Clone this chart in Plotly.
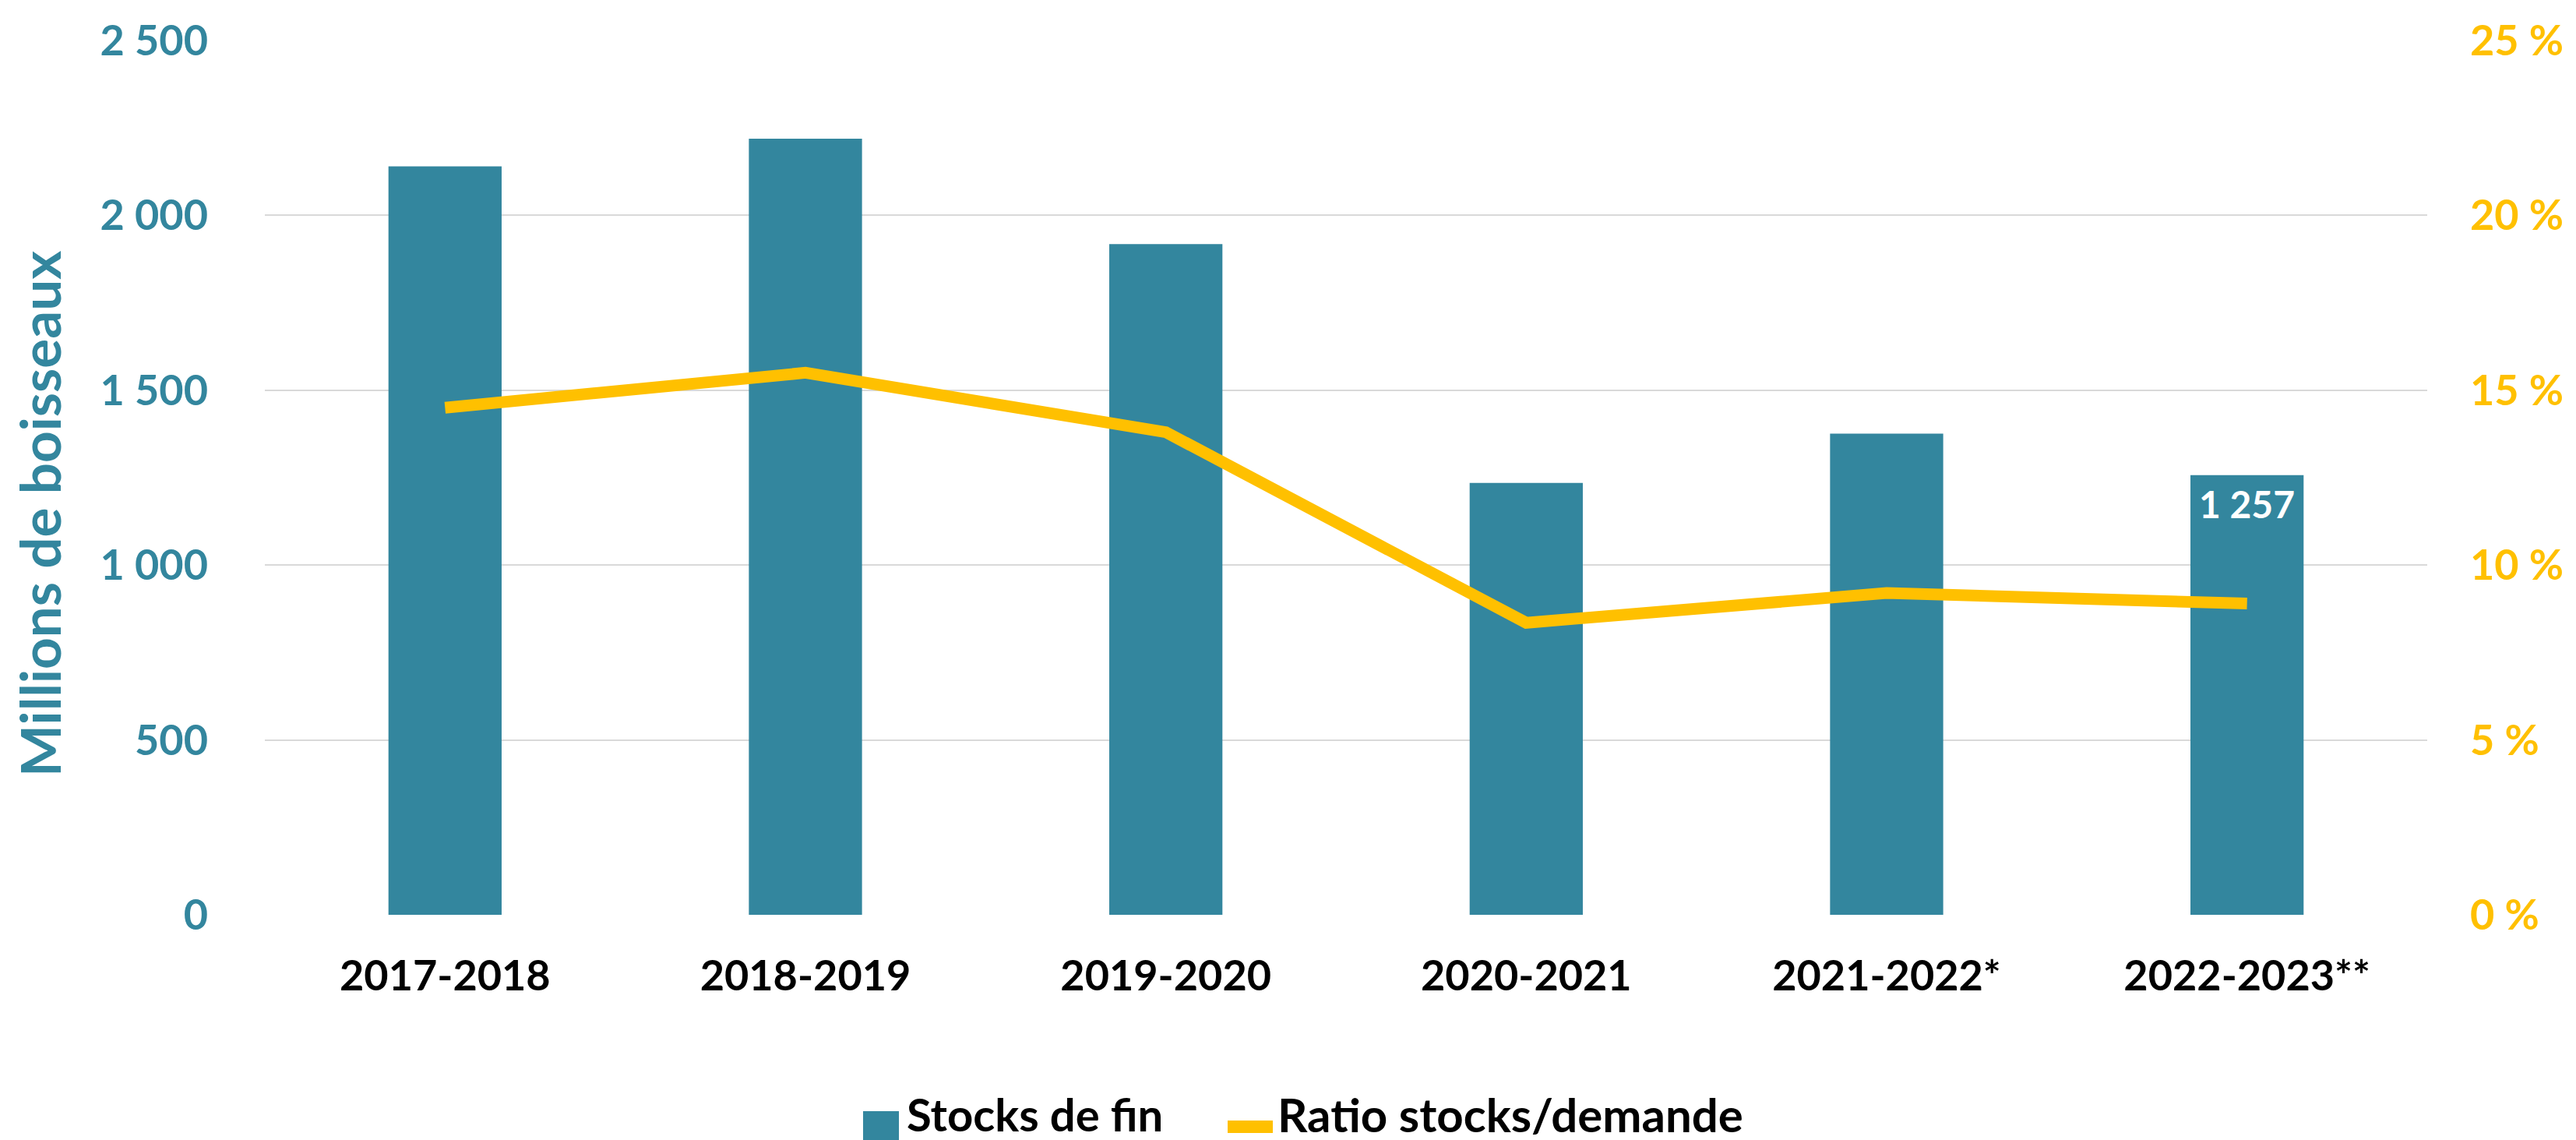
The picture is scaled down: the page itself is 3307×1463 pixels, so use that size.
import plotly.graph_objects as go

categories = ["2017-2018", "2018-2019", "2019-2020", "2020-2021", "2021-2022*", "2022-2023**"]
stocks = [2140, 2219, 1918, 1235, 1376, 1257]
ratio = [14.5, 15.5, 13.8, 8.35, 9.2, 8.9]
left_ticks = [0, 500, 1000, 1500, 2000, 2500]
left_labels = ["0", "500", "1 000", "1 500", "2 000", "2 500"]
right_ticks = [0, 5, 10, 15, 20, 25]
right_labels = ["0 %", "5 %", "10 %", "15 %", "20 %", "25 %"]

TEAL = "#33869E"
GOLD = "#FFC000"
GRID = "#D9D9D9"
FONT = "Lato"

W, H = 3307, 1463
ML, MR, MT, MB = 332, 199, 44, 297
PW, PH = W - ML - MR, H - MT - MB

def px(x):
    return (x - ML) / PW

def py(y):
    return (H - MB - y) / PH

fig = go.Figure()
fig.add_trace(go.Bar(
    x=categories, y=stocks, name="Stocks de fin",
    marker=dict(color=TEAL, line=dict(width=0)),
    yaxis="y", showlegend=False,
))
fig.add_trace(go.Scatter(
    x=categories, y=ratio, name="Ratio stocks/demande",
    mode="lines", line=dict(color=GOLD, width=15),
    yaxis="y2", showlegend=False,
))

label = f"{stocks[-1]:,}".replace(",", " ")
fig.add_annotation(
    x=categories[-1], y=stocks[-1], xref="x", yref="y",
    text=f"<b>{label}</b>", showarrow=False, yanchor="top", yshift=-6,
    font=dict(family=FONT, size=48, color="white"),
)

# y-axis title
fig.add_annotation(
    x=px(42), y=py(652), xref="paper", yref="paper",
    text="<b>Millions de boisseaux</b>", textangle=-90, showarrow=False,
    xanchor="center", yanchor="middle",
    font=dict(family=FONT, size=71, color=TEAL),
)

# manual legend
fig.add_shape(type="rect", xref="paper", yref="paper",
              x0=px(1100), x1=px(1146), y0=py(1456), y1=py(1418),
              fillcolor=TEAL, line=dict(width=0))
fig.add_annotation(x=px(1154), y=py(1422), xref="paper", yref="paper",
                   text="<b>Stocks de fin</b>", showarrow=False,
                   xanchor="left", yanchor="middle",
                   font=dict(family=FONT, size=58, color="black"))
fig.add_shape(type="line", xref="paper", yref="paper",
              x0=px(1568), x1=px(1626), y0=py(1438), y1=py(1438),
              line=dict(color=GOLD, width=16))
fig.add_annotation(x=px(1630), y=py(1422), xref="paper", yref="paper",
                   text="<b>Ratio stocks/demande</b>", showarrow=False,
                   xanchor="left", yanchor="middle",
                   font=dict(family=FONT, size=60, color="black"))

fig.update_layout(
    width=W, height=H,
    margin=dict(l=ML, r=MR, t=MT, b=MB, autoexpand=False),
    paper_bgcolor="white", plot_bgcolor="white",
    bargap=0.686,
    showlegend=False,
    font=dict(family=FONT),
    xaxis=dict(
        type="category", showgrid=False, showline=False, zeroline=False,
        ticks="", ticklabelstandoff=42,
        tickfont=dict(family=FONT, size=54, color="black", weight="bold"),
    ),
    yaxis=dict(
        range=[0, 2500], tickmode="array", tickvals=left_ticks, ticktext=left_labels,
        showgrid=True, gridcolor=GRID, gridwidth=2, zeroline=False, showline=False,
        ticks="", ticklabelstandoff=72,
        tickfont=dict(family=FONT, size=54, color=TEAL, weight="bold"),
    ),
    yaxis2=dict(
        range=[0, 25], tickmode="array", tickvals=right_ticks, ticktext=right_labels,
        overlaying="y", side="right",
        showgrid=False, zeroline=False, showline=False,
        ticks="", ticklabelstandoff=54,
        tickfont=dict(family=FONT, size=54, color=GOLD, weight="bold"),
    ),
)

fig.write_html("out.html")
